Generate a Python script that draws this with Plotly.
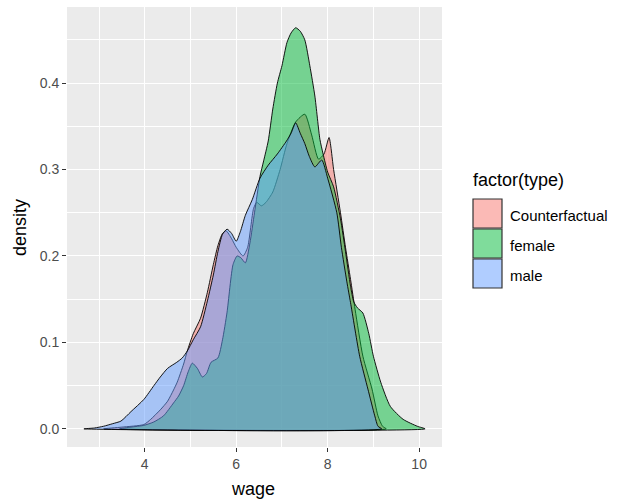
import plotly.graph_objects as go

# ---- data ----
male_x = [2.67, 2.9, 3.1, 3.3, 3.48, 3.7, 3.98, 4.2, 4.34, 4.5, 4.7, 4.82, 4.93, 5.06, 5.22,
          5.37, 5.5, 5.6, 5.7, 5.8, 5.9, 6.0, 6.09, 6.2, 6.35, 6.52, 6.7, 6.9, 7.1, 7.2, 7.3,
          7.4, 7.5, 7.6, 7.72, 7.87, 8.0, 8.2, 8.3, 8.42, 8.5, 8.7, 8.88, 9.03, 9.1, 9.18]
male_y = [0, 0.001, 0.003, 0.006, 0.009, 0.02, 0.034, 0.05, 0.06, 0.07, 0.077, 0.082, 0.09, 0.103,
          0.118, 0.148, 0.178, 0.205, 0.225, 0.231, 0.226, 0.217, 0.228, 0.247, 0.265, 0.29,
          0.305, 0.318, 0.333, 0.342, 0.354, 0.342, 0.33, 0.315, 0.303, 0.311, 0.29, 0.25, 0.21,
          0.17, 0.146, 0.084, 0.046, 0.015, 0.003, 0]

cf_x = [3.1, 3.5, 3.98, 4.13, 4.34, 4.5, 4.63, 4.71, 4.85, 4.93, 5.06, 5.22, 5.37, 5.5, 5.6,
        5.7, 5.78, 5.9, 6.0, 6.15, 6.25, 6.38, 6.45, 6.55, 6.65, 6.8, 6.96, 7.11, 7.3, 7.5,
        7.65, 7.8, 7.92, 8.03, 8.13, 8.28, 8.39, 8.5, 8.6, 8.77, 8.97, 9.1, 9.2, 9.28]
cf_y = [0, 0.002, 0.005, 0.011, 0.022, 0.032, 0.045, 0.054, 0.075, 0.09, 0.11, 0.128, 0.158,
        0.19, 0.212, 0.226, 0.229, 0.22, 0.21, 0.2, 0.21, 0.255, 0.262, 0.258, 0.262, 0.274,
        0.30, 0.33, 0.355, 0.364, 0.34, 0.312, 0.318, 0.337, 0.3, 0.25, 0.21, 0.173, 0.138,
        0.084, 0.046, 0.015, 0.003, 0]

fem_x = [3.45, 3.7, 3.98, 4.2, 4.41, 4.63, 4.74, 4.85, 4.95, 5.04, 5.15, 5.26, 5.35, 5.45, 5.6,
         5.7, 5.8, 5.93, 6.02, 6.1, 6.2, 6.3, 6.4, 6.52, 6.6, 6.7, 6.8, 6.9, 7.0, 7.11, 7.2,
         7.3, 7.4, 7.5, 7.61, 7.72, 7.83, 7.9, 8.0, 8.13, 8.28, 8.39, 8.5, 8.57, 8.65, 8.77,
         8.9, 9.0, 9.16, 9.37, 9.65, 9.96, 10.13]
fem_y = [0, 0.002, 0.004, 0.008, 0.015, 0.03, 0.038, 0.05, 0.066, 0.076, 0.07, 0.06, 0.064,
         0.077, 0.082, 0.103, 0.135, 0.19, 0.2, 0.198, 0.192, 0.215, 0.25, 0.292, 0.31, 0.333,
         0.37, 0.4, 0.42, 0.447, 0.458, 0.464, 0.46, 0.45, 0.42, 0.385, 0.335, 0.318, 0.297,
         0.28, 0.243, 0.205, 0.165, 0.147, 0.14, 0.134, 0.11, 0.084, 0.054, 0.026, 0.011,
         0.003, 0]

series_names = ["Counterfactual", "female", "male"]
series_colors = ["rgba(248,118,109,0.5)", "rgba(0,186,56,0.5)", "rgba(97,156,255,0.5)"]
x_ticks = [4, 6, 8, 10]
y_ticks = [0.0, 0.1, 0.2, 0.3, 0.4]
y_tick_text = ["0.0", "0.1", "0.2", "0.3", "0.4"]

FONT = "Liberation Sans, Arial, sans-serif"

fig = go.Figure()
for name, xs, ys, col in zip(series_names, [cf_x, fem_x, male_x], [cf_y, fem_y, male_y], series_colors):
    fig.add_trace(go.Scatter(
        x=xs + [xs[0]], y=ys + [ys[0]], mode="lines", fill="toself", fillcolor=col,
        line=dict(color="black", width=0.9, shape="spline", smoothing=0.6),
        name=name, showlegend=False, hoverinfo="skip"))

fig.update_layout(
    width=618, height=502,
    margin=dict(l=67, r=176, t=7, b=55),
    paper_bgcolor="white", plot_bgcolor="#EBEBEB",
    font=dict(family=FONT, color="black"),
    showlegend=False,
)
fig.update_xaxes(
    range=[2.3, 10.5], tickvals=x_ticks, ticktext=[str(t) for t in x_ticks],
    showgrid=True, gridcolor="white", gridwidth=1.1, zeroline=False,
    minor=dict(showgrid=True, gridcolor="white", gridwidth=0.5, dtick=1, tick0=3, ticks=""),
    ticks="outside", ticklen=4, tickcolor="#333333", tickwidth=1,
    tickfont=dict(size=14, color="#4D4D4D", family=FONT), showline=False,
)
fig.update_yaxes(
    range=[-0.021, 0.488], tickvals=y_ticks, ticktext=y_tick_text,
    showgrid=True, gridcolor="white", gridwidth=1.1, zeroline=False,
    minor=dict(showgrid=True, gridcolor="white", gridwidth=0.5, dtick=0.05, tick0=0.05, ticks=""),
    ticks="outside", ticklen=4, tickcolor="#333333", tickwidth=1,
    tickfont=dict(size=14, color="#4D4D4D", family=FONT), showline=False,
)

# axis titles
fig.add_annotation(text="wage", xref="paper", yref="paper", x=(253 - 67) / 375, y=(447 - 489) / 440,
                   showarrow=False, font=dict(size=18, color="black", family=FONT),
                   xanchor="center", yanchor="middle")
fig.add_annotation(text="density", xref="paper", yref="paper", x=(20 - 67) / 375, y=(447 - 228) / 440,
                   showarrow=False, textangle=-90, font=dict(size=18, color="black", family=FONT),
                   xanchor="center", yanchor="middle")

# legend (drawn manually)
def px(xp):
    return (xp - 67) / 375

def py(yp):
    return (447 - yp) / 440

fig.add_annotation(text="factor(type)", xref="paper", yref="paper", x=px(471), y=py(180),
                   showarrow=False, font=dict(size=18, color="black", family=FONT),
                   xanchor="left", yanchor="middle")
box_tops = [199, 229, 259]
for name, col, top in zip(series_names, series_colors, box_tops):
    fig.add_shape(type="rect", xref="paper", yref="paper",
                  x0=px(473), x1=px(502), y0=py(top), y1=py(top + 29),
                  fillcolor=col, line=dict(color="#333333", width=1.2))
    fig.add_annotation(text=name, xref="paper", yref="paper", x=px(508), y=py(top + 16),
                       showarrow=False, font=dict(size=15, color="black", family=FONT),
                       xanchor="left", yanchor="middle")

fig.write_html("out.html", config={"displayModeBar": False},
               post_script="document.body.style.margin='0';")
